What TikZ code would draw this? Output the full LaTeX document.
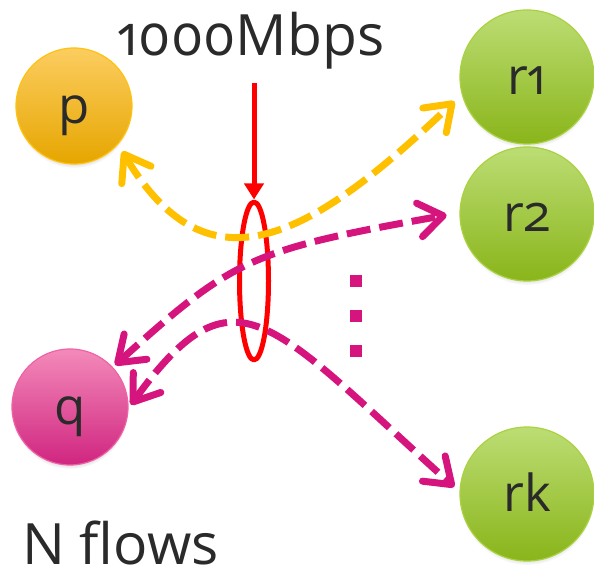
\documentclass[tikz,border=0pt]{standalone}
\usepackage{fontspec}
\setmainfont{Open Sans}[Numbers=OldStyle]
\usetikzlibrary{arrows.meta,shadows,shapes.geometric}
\definecolor{inkgray}{HTML}{2A2A2A}
\definecolor{flowgold}{HTML}{FFC000}
\definecolor{flowpink}{HTML}{D5157D}
\begin{document}
\begin{tikzpicture}[x=1pt, y=1pt, line join=round,
  host/.style={circle, inner sep=0pt, line width=1.2pt, text=inkgray,
    font=\fontsize{51}{51}\selectfont, text height=35pt, text depth=0pt,
    circular drop shadow={shadow scale=1.0, shadow xshift=0pt, shadow yshift=-4pt, opacity=.45}},
  sender/.style={host, minimum size=116},
  receiver/.style={host, minimum size=134,
    top color={rgb,255:red,188;green,221;blue,116}, bottom color={rgb,255:red,138;green,181;blue,26},
    draw={rgb,255:red,170;green,210;blue,64}},
  flow/.style={line width=7pt, dash pattern=on 24pt off 9pt,
    {Straight Barb[round,length=24pt,width=34pt]}-{Straight Barb[round,length=24pt,width=34pt]}},
  big/.style={text=inkgray, inner sep=0pt, text depth=0pt, font=\fontsize{57}{57}\selectfont}]
\useasboundingbox (0,0) rectangle (594,577);
% --- hosts ---
\node[sender, top color={rgb,255:red,252;green,205;blue,96}, bottom color={rgb,255:red,230;green,166;blue,0},
  draw={rgb,255:red,255;green,194;blue,14}] (p) at (74,471) {p};
\node[sender, top color={rgb,255:red,243;green,138;blue,186}, bottom color={rgb,255:red,208;green,37;blue,128},
  draw={rgb,255:red,240;green,98;blue,166}] (q) at (70,170) {q};
\node[receiver] (r1) at (527,500) {r1};
\node[receiver] (r2) at (527,363) {r2};
\node[receiver] (rk) at (527,83) {rk};

% --- bottleneck link ---
\node[ellipse, draw=red, line width=5pt, minimum width=29, minimum height=158, inner sep=0pt] (link) at (254,296) {};
\coordinate (feed) at (254,494);
\draw[red, line width=5pt, -{Triangle[length=16pt,width=19pt]}] (feed) -- (link.north);

% --- flows ---
\draw[flow, flowgold, shorten <=8pt, shorten >=10pt] (p.-41) .. controls (209,280) and (311,339) .. (r1.195);
\draw[flow, flowpink, shorten <=3pt, shorten >=13pt] (q.43) .. controls (234,319) and (251,327) .. (r2.179);
\draw[flow, flowpink, shorten <=4pt, shorten >=7pt] (q.-1) .. controls (235,316) and (270,256) .. (rk.178);
\draw[flowpink, line width=12pt, dash pattern=on 12pt off 23pt] (356,302) -- (356,220);

% --- labels ---
\node[big, anchor=base] (rate) at (251,521) {1000Mbps};
\node[big, anchor=base west] (count) at (22,12) {N flows};
\end{tikzpicture}
\end{document}
